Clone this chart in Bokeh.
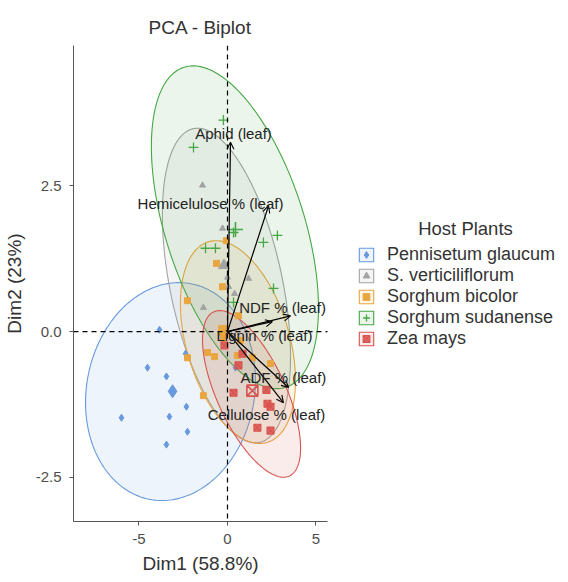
import numpy as np
from bokeh.plotting import figure
from bokeh.models import (ColumnDataSource, Span, Arrow, OpenHead, Legend, LegendItem,
                          Label, LabelSet, FixedTicker, NumeralTickFormatter, Title)
from bokeh.embed import file_html
from bokeh.resources import INLINE
from bokeh.core.properties import value

FONT = "Liberation Sans"

# ---------------- data ----------------
groups = ["Pennisetum glaucum", "S. verticiliflorum", "Sorghum bicolor",
          "Sorghum sudanense", "Zea mays"]
colors = ["#6699DD", "#A3A3A3", "#E8A640", "#45A845", "#D9534F"]
markers = ["diamond", "triangle", "square", "cross", "square_x"]

pen_x = [-3.84, -2.37, -4.52, -3.45, -2.32, -5.99, -3.28, -2.26, -3.45, 0.45]
pen_y = [0.03, -0.38, -0.62, -0.77, -1.29, -1.48, -1.46, -1.72, -1.94, -0.62]

ver_x = [-1.41, -0.28, 0.00, 0.06, 0.40, -1.36, 1.19]
ver_y = [2.51, 1.77, 0.93, 0.77, 0.65, 0.41, 0.91]

bic_x = [-0.06, -0.62, -0.28, -2.26, 0.62, -0.23, -1.13, -2.26, -0.73, -1.36, 0.73, 2.43, 1.41, 0.56]
bic_y = [1.56, 1.17, 0.77, 0.53, 0.27, -0.12, -0.36, -0.45, -0.43, -1.10, -0.15, -0.55, -0.45, -0.41]

sud_x = [-0.23, -1.92, 0.34, 2.03, 2.82, -1.24, -0.68, 2.60, 0.34]
sud_y = [3.63, 3.16, 1.70, 1.53, 1.65, 1.43, 1.43, 0.74, 0.50]

zea_x = [0.34, 2.20, 2.26, 2.43, 1.69, 2.43, 0.85, -0.17, 0.62]
zea_y = [-1.05, -1.00, -1.24, -1.29, -1.65, -1.70, -0.38, -0.24, -0.58]

# confidence ellipses: centre, half-extent in x and y, correlation
ell_cx = [-3.22, -0.06, 0.59, 0.42, 1.36]
ell_cy = [-1.03, 0.79, -0.18, 1.79, -1.07]
ell_sx = [4.80, 3.62, 3.25, 4.72, 2.77]
ell_sy = [1.87, 2.70, 1.74, 2.77, 1.43]
ell_rho = [0.10, -0.45, -0.38, -0.50, -0.65]

# variables (loadings)
var_names = ["Aphid (leaf)", "Hemicelulose % (leaf)", "NDF % (leaf)",
             "Lignin % (leaf)", "ADF % (leaf)", "Cellulose % (leaf)"]
var_x = [0.17, 2.32, 3.56, 2.54, 3.45, 3.16]
var_y = [3.25, 2.16, 0.27, 0.17, -0.96, -1.22]
lab_x = [0.34, -0.96, 3.11, 2.09, 3.16, 2.20]
lab_y = [3.40, 2.20, 0.41, -0.07, -0.79, -1.43]

x_ticks = [-5, 0, 5]
y_ticks = [-2.5, 0.0, 2.5]
x_lim = (-8.7, 5.65)
y_lim = (-3.26, 4.91)

group_x = [pen_x, ver_x, bic_x, sud_x, zea_x]
group_y = [pen_y, ver_y, bic_y, sud_y, zea_y]

# ---------------- figure ----------------
W, H = 560, 580
L, T, B = 73, 45, 59
PANEL_W = 327 - L
px_per_unit = PANEL_W / (x_lim[1] - x_lim[0])
x_end = x_lim[0] + (W - L) / px_per_unit   # extra room on the right for the legend

p = figure(width=W, height=H, output_backend="svg", toolbar_location=None,
           x_range=(x_lim[0], x_end), y_range=y_lim,
           min_border_left=L, min_border_right=0, min_border_top=T, min_border_bottom=B)
p.grid.visible = False
p.outline_line_color = None
p.background_fill_color = "white"
p.border_fill_color = "white"

p.title.text = "PCA - Biplot"
p.title.align = "left"
p.title.offset = PANEL_W / 2 - 52
p.title.text_font = FONT
p.title.text_font_size = "19px"
p.title.text_font_style = "normal"
p.title.text_color = "#333333"
p.title.standoff = 16

for ax in (p.xaxis[0], p.yaxis[0]):
    ax.axis_line_color = "#555555"
    ax.major_tick_line_color = "#555555"
    ax.major_tick_out = 4
    ax.major_tick_in = 0
    ax.minor_tick_line_color = None
    ax.major_label_text_font = FONT
    ax.major_label_text_font_size = "15px"
    ax.major_label_text_color = "#4d4d4d"
    ax.axis_label_text_font = FONT
    ax.axis_label_text_font_size = "19px"
    ax.axis_label_text_font_style = "normal"
    ax.axis_label_text_color = "#333333"

p.xaxis.bounds = x_lim
p.xaxis.ticker = FixedTicker(ticks=x_ticks)
p.yaxis.ticker = FixedTicker(ticks=y_ticks)
p.xaxis.formatter = NumeralTickFormatter(format="0")
p.yaxis.formatter = NumeralTickFormatter(format="0.0")
p.yaxis.axis_label = "Dim2 (23%)"
p.xaxis.major_label_standoff = 8
p.yaxis.major_label_standoff = 8
p.yaxis.axis_label_standoff = 8

# x-axis title centred under the panel part of the axis
p.add_layout(Title(text="Dim1 (58.8%)", align="left", offset=PANEL_W / 2 - 58,
                   text_font=FONT, text_font_size="19px", text_font_style="normal",
                   text_color="#333333", standoff=8), "below")

# ellipses
t = np.linspace(0, 2 * np.pi, 240)
patch_r = []
for i in range(len(groups)):
    r = ell_rho[i]
    ex = ell_cx[i] + ell_sx[i] * np.cos(t)
    ey = ell_cy[i] + ell_sy[i] * (r * np.cos(t) + np.sqrt(1 - r * r) * np.sin(t))
    pr = p.patch(ex, ey, fill_color=colors[i], fill_alpha=0.11,
                 line_color=colors[i], line_width=1.1)
    patch_r.append(pr)

# points
sizes = [7, 6, 6, 10, 7]
big = [13, 11, 10, 15, 11]
point_r = []
for i in range(len(groups)):
    gx, gy = group_x[i], group_y[i]
    src = ColumnDataSource(dict(x=gx, y=gy))
    mx, my = [float(np.mean(gx))], [float(np.mean(gy))]
    if markers[i] == "cross":
        sr = p.scatter("x", "y", source=src, marker=markers[i], size=sizes[i],
                       line_color=colors[i], line_width=1.3)
        p.scatter(mx, my, marker=markers[i], size=big[i], line_color=colors[i], line_width=1.6)
    elif markers[i] == "square_x":
        sr = p.scatter("x", "y", source=src, marker=markers[i], size=sizes[i],
                       fill_color=colors[i], fill_alpha=0.85, line_color=colors[i], line_width=1.1)
        p.scatter(mx, my, marker=markers[i], size=big[i], fill_color=None,
                  line_color=colors[i], line_width=1.6)
    else:
        sr = p.scatter("x", "y", source=src, marker=markers[i], size=sizes[i],
                       fill_color=colors[i], line_color=colors[i])
        p.scatter(mx, my, marker=markers[i], size=big[i], fill_color=colors[i], line_color=colors[i])
    point_r.append(sr)

# reference dashed lines
p.add_layout(Span(location=0, dimension="height", line_color="black",
                  line_dash="5 4", line_width=1.2))
p.line(list(x_lim), [0, 0], line_color="black", line_dash="5 4", line_width=1.2)

# variable arrows
asrc = ColumnDataSource(dict(x0=[0] * len(var_x), y0=[0] * len(var_y), x1=var_x, y1=var_y))
p.add_layout(Arrow(end=OpenHead(size=7, line_width=1.1, line_color="black"),
                   x_start="x0", y_start="y0", x_end="x1", y_end="y1",
                   source=asrc, line_color="black", line_width=1.2))
lsrc = ColumnDataSource(dict(x=lab_x, y=lab_y, text=var_names))
p.add_layout(LabelSet(x="x", y="y", text="text", source=lsrc, text_align="center",
                      text_baseline="middle", text_font=value(FONT),
                      text_font_size="15px", text_color="#222222"))

# legend
items = [LegendItem(label=groups[i], renderers=[patch_r[i], point_r[i]]) for i in range(len(groups))]
leg = Legend(items=items, location=(284, 172), padding=0, margin=0,
             border_line_color=None, background_fill_alpha=0,
             glyph_width=18, glyph_height=17, label_standoff=12, spacing=0,
             label_text_font=FONT, label_text_font_size="18px", label_text_color="#333333")
p.add_layout(leg, "center")
p.add_layout(Label(x=392, y=293, x_units="screen", y_units="screen", text="Host Plants",
                   text_align="center", text_baseline="middle", text_font=FONT,
                   text_font_size="18.5px", text_color="#333333"))

open("out.html", "w").write(file_html(p, INLINE))
